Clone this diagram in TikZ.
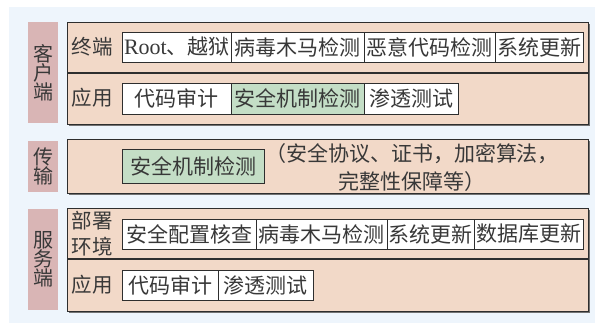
\documentclass[tikz,border=0pt]{standalone}
\usepackage{fontspec}
\setmainfont{Noto Sans CJK SC}
\newfontfamily\latinfont{Liberation Serif}
\definecolor{bgblue}{HTML}{EEF5FC}
\definecolor{peach}{HTML}{F2D9C8}
\definecolor{pinklab}{HTML}{D9B5B5}
\definecolor{greenbox}{HTML}{C4DEC6}
\definecolor{txt}{HTML}{383838}
\definecolor{bord}{HTML}{2E2E2E}
\begin{document}
\begin{tikzpicture}[x=1pt,y=-1pt,
  font=\fontsize{21}{23}\selectfont, text=txt,
  outer/.style={draw=bord, fill=peach, line width=1.3pt, inner sep=0, anchor=north west},
  shadowbox/.style={fill=black!55, draw=none, inner sep=0, anchor=north west},
  lab/.style={fill=pinklab, draw=none, inner sep=0, anchor=north west, minimum width=30, align=center, font=\fontsize{20}{19}\selectfont},
  item/.style={draw=bord, fill=white, line width=0.9pt, minimum height=30, inner sep=0, anchor=west},
  rowlab/.style={inner sep=0, align=center, font=\fontsize{20.5}{23}\selectfont}
]
\useasboundingbox (0,0) rectangle (595,323);
\fill[bgblue] (9,7) rectangle (595,323);

% client
\node[shadowbox, minimum width=521, minimum height=102] (cs) at (68.5,23.5) {};
\node[outer, minimum width=521, minimum height=102] (client) at (67,22) {};
\draw[bord, line width=1.2pt] (client.west |- 0,73) coordinate (cd1) -- (client.east |- 0,73) coordinate (cd2);
\node[lab, minimum height=101] (clab) at (28,22) {客\\户\\端};
\node[rowlab] (c1l) at (92,47) {终端};
\node[rowlab] (c2l) at (92,98) {应用};
\node[item, minimum width=109] (c11) at (122,47) {{\latinfont\fontsize{22}{23}\selectfont Root}、越狱};
\node[item, minimum width=133] (c12) at (231,47) {病毒木马检测};
\node[item, minimum width=131] (c13) at (364,47) {恶意代码检测};
\node[item, minimum width=88] (c14) at (495,47) {系统更新};
\node[item, minimum width=109, minimum height=31] (c21) at (122,98.5) {代码审计};
\node[item, minimum width=133, minimum height=31, fill=greenbox] (c22) at (231,98.5) {安全机制检测};
\node[item, minimum width=94, minimum height=31] (c23) at (364,98.5) {渗透测试};

% transport
\node[shadowbox, minimum width=521, minimum height=54] (ts) at (68.5,140.5) {};
\node[outer, minimum width=521, minimum height=54] (trans) at (67,139) {};
\node[lab, minimum height=51] (tlab) at (28,141) {传\\输};
\node[item, minimum width=142, minimum height=34, fill=greenbox] (t1) at (122,166) {安全机制检测};
\node[inner sep=0, align=center, font=\fontsize{21}{28}\selectfont] (t2) at (412,168) {（安全协议、证书，加密算法，\\完整性保障等）};

% server
\node[shadowbox, minimum width=521, minimum height=103] (ss) at (68.5,209.5) {};
\node[outer, minimum width=521, minimum height=103] (server) at (67,208) {};
\draw[bord, line width=1.2pt] (server.west |- 0,259) coordinate (sd1) -- (server.east |- 0,259) coordinate (sd2);
\node[lab, minimum height=101] (slab) at (28,209) {服\\务\\端};
\node[rowlab, font=\fontsize{20.5}{26}\selectfont] (s1l) at (92,234) {部署\\环境};
\node[rowlab] (s2l) at (92,285) {应用};
\node[item, minimum width=134] (s11) at (122,234) {安全配置核查};
\node[item, minimum width=131] (s12) at (256,234) {病毒木马检测};
\node[item, minimum width=87] (s13) at (387,234) {系统更新};
\node[item, minimum width=109] (s14) at (474,234) {数据库更新};
\node[item, minimum width=96] (s21) at (122,285) {代码审计};
\node[item, minimum width=95] (s22) at (218,285) {渗透测试};
\end{tikzpicture}
\end{document}
